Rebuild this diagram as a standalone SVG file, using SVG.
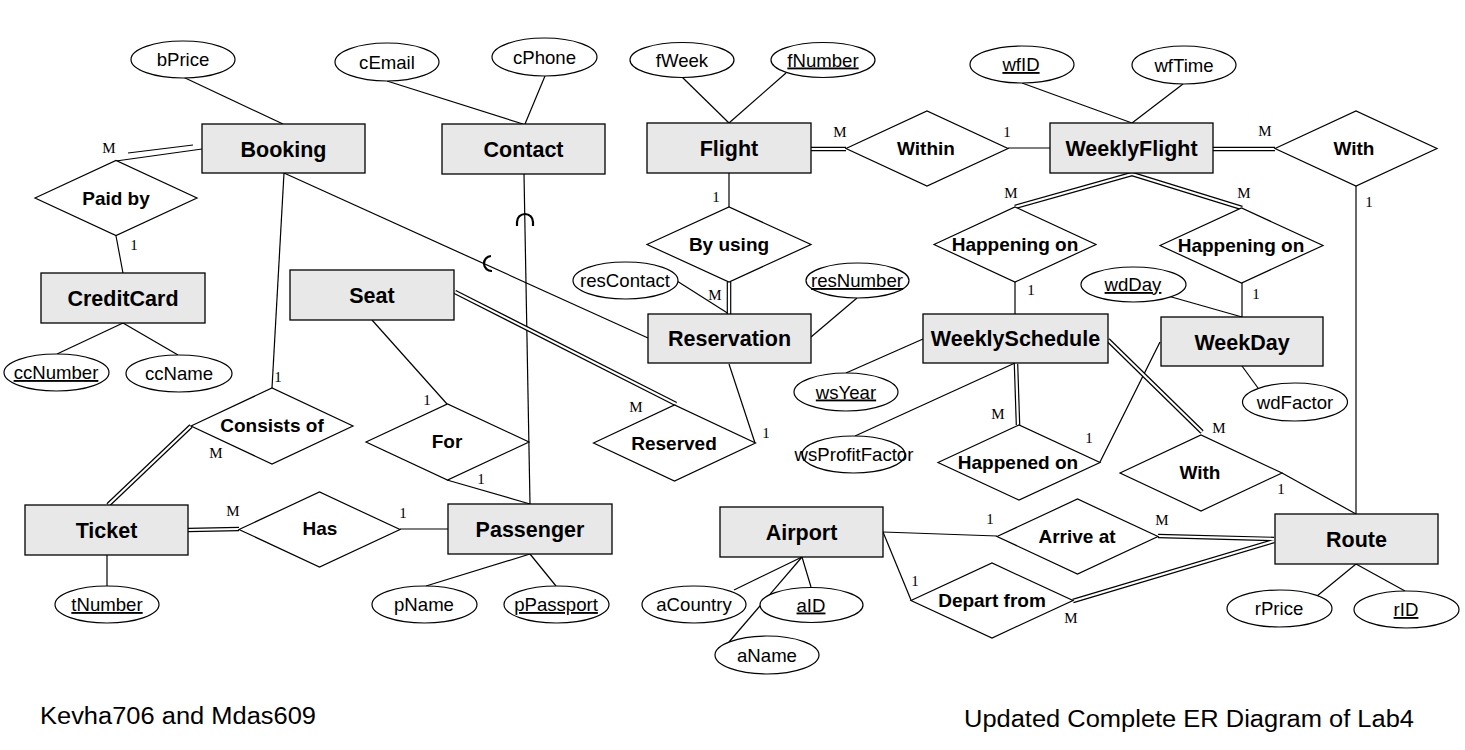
<svg xmlns="http://www.w3.org/2000/svg" width="1465" height="750" viewBox="0 0 1465 750">
<style>
.ln{stroke:#000;stroke-width:1.2;fill:none}
.d1{stroke:#000;stroke-width:4.6;fill:none}
.d2{stroke:#fff;stroke-width:2.2;fill:none}
.hop{stroke:#000;stroke-width:2.2;fill:none}
.ent rect{fill:#e8e8e8;stroke:#000;stroke-width:1.3}
.rel polygon{fill:#fff;stroke:#000;stroke-width:1.2}
.att ellipse{fill:#fff;stroke:#000;stroke-width:1.2}
.et{font-family:"Liberation Sans",Arial,sans-serif;font-weight:bold;font-size:21.5px;text-anchor:middle;fill:#000}
.rt{font-family:"Liberation Sans",Arial,sans-serif;font-weight:bold;font-size:19px;text-anchor:middle;fill:#000}
.at{font-family:"Liberation Sans",Arial,sans-serif;font-size:18.6px;text-anchor:middle;fill:#000}
.u{text-decoration:underline}
.cd{font-family:"Liberation Serif","Times New Roman",serif;font-size:15px;text-anchor:middle;fill:#000}
.ft{font-family:"Liberation Sans",Arial,sans-serif;font-size:23.5px;fill:#000}
</style>
<rect width="1465" height="750" fill="#fff"/>
<g id="connectors">
<line class="ln" x1="183" y1="77" x2="283" y2="124"/>
<line class="ln" x1="387" y1="81" x2="523" y2="124"/>
<line class="ln" x1="545" y1="76" x2="525" y2="124"/>
<line class="ln" x1="682" y1="77" x2="729" y2="123"/>
<line class="ln" x1="786" y1="73" x2="729" y2="123"/>
<line class="ln" x1="1022" y1="83" x2="1132" y2="123"/>
<line class="ln" x1="1183" y1="84" x2="1132" y2="123"/>
<line class="ln" x1="677" y1="281" x2="729" y2="314"/>
<line class="ln" x1="857" y1="298" x2="811" y2="337"/>
<line class="ln" x1="1168" y1="296" x2="1242" y2="317"/>
<line class="ln" x1="846" y1="373" x2="923" y2="339"/>
<line class="ln" x1="855" y1="436" x2="1015" y2="363"/>
<line class="ln" x1="1242" y1="366" x2="1258" y2="388"/>
<line class="ln" x1="123" y1="323" x2="57" y2="354"/>
<line class="ln" x1="123" y1="323" x2="178" y2="355"/>
<line class="ln" x1="107" y1="555" x2="107" y2="586"/>
<line class="ln" x1="530" y1="554" x2="426" y2="586"/>
<line class="ln" x1="530" y1="554" x2="556" y2="586"/>
<line class="ln" x1="802" y1="557" x2="734" y2="590"/>
<line class="ln" x1="802" y1="557" x2="811" y2="587"/>
<line class="ln" x1="802" y1="557" x2="729" y2="642"/>
<line class="ln" x1="1356" y1="564" x2="1317" y2="596"/>
<line class="ln" x1="1356" y1="564" x2="1405" y2="591"/>

<line class="ln" x1="116" y1="236" x2="123" y2="273"/>
<line class="ln" x1="284" y1="173" x2="272" y2="388"/>
<line class="ln" x1="284" y1="173" x2="648" y2="338"/>
<line class="ln" x1="524" y1="174" x2="530" y2="504"/>
<line class="ln" x1="1008" y1="148" x2="1050" y2="148"/>
<line class="ln" x1="1356" y1="186" x2="1356" y2="514"/>
<line class="ln" x1="729" y1="173" x2="729" y2="207"/>
<line class="ln" x1="1015" y1="282" x2="1015" y2="314"/>
<line class="ln" x1="1242" y1="283" x2="1242" y2="317"/>
<line class="ln" x1="1100" y1="462" x2="1160" y2="342"/>
<line class="ln" x1="1282" y1="473" x2="1356" y2="514"/>
<line class="ln" x1="729" y1="364" x2="755" y2="443"/>
<line class="ln" x1="372" y1="320" x2="447" y2="404"/>
<line class="ln" x1="447" y1="480" x2="530" y2="504"/>
<line class="ln" x1="400" y1="529" x2="448" y2="529"/>
<line class="ln" x1="883" y1="532" x2="997" y2="536"/>
<line class="ln" x1="883" y1="532" x2="911" y2="600"/>

<line class="ln" x1="116" y1="161" x2="202" y2="149"/>
<line class="ln" x1="128" y1="153" x2="193" y2="145"/>

<g class="d1">
<line x1="811" y1="149" x2="846" y2="149"/>
<line x1="1213" y1="149" x2="1275" y2="149"/>
<line x1="729" y1="282" x2="729" y2="314"/>
<line x1="1132" y1="174" x2="1015" y2="207"/>
<line x1="1132" y1="174" x2="1242" y2="208"/>
<line x1="1016" y1="364" x2="1018" y2="425"/>
<line x1="1108" y1="340" x2="1202" y2="432"/>
<line x1="455" y1="292" x2="676" y2="404"/>
<line x1="191" y1="426" x2="108" y2="505"/>
<line x1="188" y1="530" x2="239" y2="529"/>
<line x1="1158" y1="536" x2="1274" y2="539"/>
<line x1="1073" y1="601" x2="1274" y2="541"/>
</g>
<g class="d2">
<line x1="811" y1="149" x2="846" y2="149"/>
<line x1="1213" y1="149" x2="1275" y2="149"/>
<line x1="729" y1="282" x2="729" y2="314"/>
<line x1="1132" y1="174" x2="1015" y2="207"/>
<line x1="1132" y1="174" x2="1242" y2="208"/>
<line x1="1016" y1="364" x2="1018" y2="425"/>
<line x1="1108" y1="340" x2="1202" y2="432"/>
<line x1="455" y1="292" x2="676" y2="404"/>
<line x1="191" y1="426" x2="108" y2="505"/>
<line x1="188" y1="530" x2="239" y2="529"/>
<line x1="1158" y1="536" x2="1274" y2="539"/>
<line x1="1073" y1="601" x2="1274" y2="541"/>
</g>
<path class="hop" d="M517 226 L517 222 A8 8 0 0 1 533 222 L533 226"/>
<path class="hop" d="M491 256 A7.5 7.5 0 0 0 492 271"/>

<g id="cardinalities">
<text class="cd" x="109" y="153">M</text>
<text class="cd" x="134" y="250">1</text>
<text class="cd" x="278" y="382">1</text>
<text class="cd" x="216" y="458">M</text>
<text class="cd" x="427" y="405">1</text>
<text class="cd" x="481" y="484">1</text>
<text class="cd" x="636" y="412">M</text>
<text class="cd" x="766" y="438">1</text>
<text class="cd" x="233" y="516">M</text>
<text class="cd" x="403" y="518">1</text>
<text class="cd" x="840" y="137">M</text>
<text class="cd" x="1007" y="137">1</text>
<text class="cd" x="1265" y="136">M</text>
<text class="cd" x="1369" y="207">1</text>
<text class="cd" x="716" y="202">1</text>
<text class="cd" x="715" y="300">M</text>
<text class="cd" x="1011" y="198">M</text>
<text class="cd" x="1244" y="198">M</text>
<text class="cd" x="1031" y="295">1</text>
<text class="cd" x="1256" y="299">1</text>
<text class="cd" x="998" y="419">M</text>
<text class="cd" x="1089" y="443">1</text>
<text class="cd" x="1219" y="433">M</text>
<text class="cd" x="1281" y="494">1</text>
<text class="cd" x="990" y="524">1</text>
<text class="cd" x="1162" y="525">M</text>
<text class="cd" x="915" y="586">1</text>
<text class="cd" x="1071" y="623">M</text>
</g>
</g>

<g id="Booking" class="ent"><rect x="202" y="124" width="163" height="49"/><text class="et" x="283.5" y="156.5">Booking</text></g>
<g id="Contact" class="ent"><rect x="442" y="124" width="163" height="50"/><text class="et" x="523.5" y="157">Contact</text></g>
<g id="Flight" class="ent"><rect x="647" y="123" width="164" height="50"/><text class="et" x="729" y="156">Flight</text></g>
<g id="WeeklyFlight" class="ent"><rect x="1050" y="123" width="163" height="50"/><text class="et" x="1131.5" y="156">WeeklyFlight</text></g>
<g id="CreditCard" class="ent"><rect x="41" y="273" width="164" height="50"/><text class="et" x="123" y="306">CreditCard</text></g>
<g id="Seat" class="ent"><rect x="290" y="270" width="164" height="50"/><text class="et" x="372" y="303">Seat</text></g>
<g id="Reservation" class="ent"><rect x="648" y="314" width="163" height="49"/><text class="et" x="729.5" y="346">Reservation</text></g>
<g id="WeeklySchedule" class="ent"><rect x="923" y="314" width="185" height="49"/><text class="et" x="1015.5" y="346">WeeklySchedule</text></g>
<g id="WeekDay" class="ent"><rect x="1161" y="317" width="162" height="49"/><text class="et" x="1242" y="349.5">WeekDay</text></g>
<g id="Ticket" class="ent"><rect x="25" y="505" width="163" height="50"/><text class="et" x="106.5" y="538">Ticket</text></g>
<g id="Passenger" class="ent"><rect x="448" y="504" width="164" height="50"/><text class="et" x="530" y="537">Passenger</text></g>
<g id="Airport" class="ent"><rect x="720" y="507" width="163" height="50"/><text class="et" x="801.5" y="540">Airport</text></g>
<g id="Route" class="ent"><rect x="1275" y="514" width="163" height="50"/><text class="et" x="1356.5" y="547">Route</text></g>

<g id="PaidBy" class="rel"><polygon points="35,198 116,160.5 197,198 116,235.5"/><text class="rt" x="116" y="205">Paid by</text></g>
<g id="Within" class="rel"><polygon points="846,148.5 927,111 1008,148.5 927,186"/><text class="rt" x="926" y="155">Within</text></g>
<g id="WithTop" class="rel"><polygon points="1275,148.5 1356,111 1437,148.5 1356,186"/><text class="rt" x="1354" y="155">With</text></g>
<g id="ByUsing" class="rel"><polygon points="647,244.5 729,207 811,244.5 729,282"/><text class="rt" x="729" y="251">By using</text></g>
<g id="HappeningOn1" class="rel"><polygon points="934,244.5 1015,207 1096,244.5 1015,282"/><text class="rt" x="1015" y="251">Happening on</text></g>
<g id="HappeningOn2" class="rel"><polygon points="1160,245.5 1241.5,208 1323,245.5 1241.5,283"/><text class="rt" x="1241" y="252">Happening on</text></g>
<g id="ConsistsOf" class="rel"><polygon points="191,426 272,388 353,426 272,464"/><text class="rt" x="272" y="432">Consists of</text></g>
<g id="For" class="rel"><polygon points="366,442 447.5,404 529,442 447.5,480"/><text class="rt" x="447" y="448">For</text></g>
<g id="Reserved" class="rel"><polygon points="593.5,443 674.5,405 755.5,443 674.5,481"/><text class="rt" x="674" y="450">Reserved</text></g>
<g id="Has" class="rel"><polygon points="239,529.5 319.5,492 400,529.5 319.5,567"/><text class="rt" x="320" y="535">Has</text></g>
<g id="HappenedOn" class="rel"><polygon points="938,462.5 1019,425 1100,462.5 1019,500"/><text class="rt" x="1018" y="469">Happened on</text></g>
<g id="WithLower" class="rel"><polygon points="1120,473 1201,435 1282,473 1201,511"/><text class="rt" x="1200" y="479">With</text></g>
<g id="ArriveAt" class="rel"><polygon points="997,536.5 1077.5,499 1158,536.5 1077.5,574"/><text class="rt" x="1077" y="543">Arrive at</text></g>
<g id="DepartFrom" class="rel"><polygon points="911,600.5 992,563 1073,600.5 992,638"/><text class="rt" x="992" y="607">Depart from</text></g>

<g id="bPrice" class="att"><ellipse cx="183" cy="59.5" rx="52" ry="18.5"/><text class="at" x="183" y="66">bPrice</text></g>
<g id="cEmail" class="att"><ellipse cx="387" cy="62" rx="52" ry="19"/><text class="at" x="387" y="68.5">cEmail</text></g>
<g id="cPhone" class="att"><ellipse cx="544.5" cy="57" rx="52.5" ry="19"/><text class="at" x="544.5" y="63.5">cPhone</text></g>
<g id="fWeek" class="att"><ellipse cx="682" cy="60" rx="52" ry="17.5"/><text class="at" x="682" y="66.5">fWeek</text></g>
<g id="fNumber" class="att"><ellipse cx="823" cy="60" rx="52" ry="17.5"/><text class="at u" x="823" y="66.5">fNumber</text></g>
<g id="wfID" class="att"><ellipse cx="1022" cy="64.5" rx="52" ry="18.5"/><text class="at u" x="1021" y="71">wfID</text></g>
<g id="wfTime" class="att"><ellipse cx="1184" cy="65" rx="52" ry="19"/><text class="at" x="1184" y="71.5">wfTime</text></g>
<g id="resContact" class="att"><ellipse cx="625.5" cy="280.5" rx="52.5" ry="18.5"/><text class="at" x="625" y="287">resContact</text></g>
<g id="resNumber" class="att"><ellipse cx="857.5" cy="280.5" rx="51.5" ry="17.5"/><text class="at u" x="857" y="287">resNumber</text></g>
<g id="wdDay" class="att"><ellipse cx="1133.5" cy="284.5" rx="52.5" ry="17.5"/><text class="at u" x="1133" y="291">wdDay</text></g>
<g id="ccNumber" class="att"><ellipse cx="56.5" cy="372.5" rx="52.5" ry="18.5"/><text class="at u" x="56" y="379">ccNumber</text></g>
<g id="ccName" class="att"><ellipse cx="179" cy="373.5" rx="53" ry="18.5"/><text class="at" x="179" y="380">ccName</text></g>
<g id="tNumber" class="att"><ellipse cx="107" cy="604.5" rx="52" ry="18.5"/><text class="at u" x="107" y="611">tNumber</text></g>
<g id="pName" class="att"><ellipse cx="424.5" cy="604.5" rx="52.5" ry="18.5"/><text class="at" x="424" y="611">pName</text></g>
<g id="pPassport" class="att"><ellipse cx="556.5" cy="604.5" rx="52.5" ry="18.5"/><text class="at u" x="556" y="611">pPassport</text></g>
<g id="aCountry" class="att"><ellipse cx="694" cy="604.5" rx="52" ry="18.5"/><text class="at" x="694" y="611">aCountry</text></g>
<g id="aID" class="att"><ellipse cx="811.5" cy="605" rx="51.5" ry="17.5"/><text class="at u" x="811" y="611.5">aID</text></g>
<g id="aName" class="att"><ellipse cx="767" cy="655" rx="52" ry="19"/><text class="at" x="767" y="661.5">aName</text></g>
<g id="wsYear" class="att"><ellipse cx="846" cy="392" rx="52" ry="19"/><text class="at u" x="846" y="398.5">wsYear</text></g>
<g id="wsProfitFactor" class="att"><ellipse cx="853.5" cy="454.5" rx="51.5" ry="18.5"/><text class="at" x="854" y="461">wsProfitFactor</text></g>
<g id="wdFactor" class="att"><ellipse cx="1295" cy="402" rx="52.5" ry="19"/><text class="at" x="1295" y="408.5">wdFactor</text></g>
<g id="rPrice" class="att"><ellipse cx="1279.5" cy="608.5" rx="52.5" ry="18.5"/><text class="at" x="1279" y="615">rPrice</text></g>
<g id="rID" class="att"><ellipse cx="1406.5" cy="609.5" rx="52.5" ry="18.5"/><text class="at u" x="1406" y="616">rID</text></g>

<g id="footer">
<text class="ft" x="40" y="724" textLength="276" lengthAdjust="spacingAndGlyphs">Kevha706 and Mdas609</text>
<text class="ft" x="964" y="727" textLength="450" lengthAdjust="spacingAndGlyphs">Updated Complete ER Diagram of Lab4</text>
</g>
</svg>
